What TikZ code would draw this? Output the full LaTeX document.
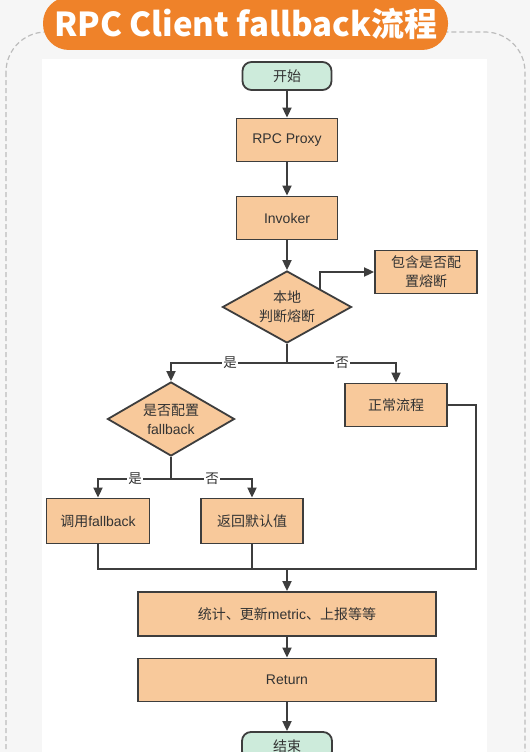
\documentclass[tikz,border=0pt]{standalone}
\usepackage{fontspec}
\usetikzlibrary{shapes.geometric,arrows.meta}
\newfontfamily\cjk{Noto Sans CJK SC}
\newfontfamily\lat{Liberation Sans}
\definecolor{boxc}{HTML}{F8C99B}
\definecolor{termc}{HTML}{CDEBDB}
\definecolor{linec}{HTML}{3D3D3D}
\definecolor{textc}{HTML}{333333}
\definecolor{titlec}{HTML}{EF8229}
\definecolor{bgc}{HTML}{F6F6F6}
\definecolor{framec}{HTML}{BDBDBD}
\begin{document}
\begin{tikzpicture}[x=1pt,y=-1pt,
  box/.style={draw=linec, line width=1.8pt, fill=boxc, font=\cjk\fontsize{14}{19}\selectfont, text=textc, inner sep=0pt, align=center},
  term/.style={box, fill=termc, rounded corners=9pt},
  dia/.style={box, diamond, aspect=1.8},
  conn/.style={draw=linec, line width=1.8pt},
  arr/.style={conn, -{Triangle[length=10pt,width=9pt]}},
  lab/.style={fill=white, inner sep=1pt, font=\cjk\fontsize{13.5}{13.5}\selectfont, text=textc}]
\clip (0,0) rectangle (530,752);
\fill[bgc] (0,0) rectangle (530,752);
\fill[white] (42,59) rectangle (487,760);
\draw[framec, line width=1.2pt, dash pattern=on 5pt off 3pt, rounded corners=40pt] (6,32) rectangle (525,820);
\node[fill=titlec, rounded corners=26pt, minimum width=405pt, minimum height=53pt, inner sep=0pt, text=white, font=\cjk\bfseries\fontsize{33}{33}\selectfont] (title) at (245.5,23.5) {RPC Client fallback流程};

\node[term, minimum width=89pt, minimum height=28pt] (start) at (287,76) {开始};
\node[box, minimum width=101pt, minimum height=43pt] (proxy) at (287,140) {\lat RPC Proxy};
\node[box, minimum width=101pt, minimum height=43pt] (inv) at (287,218) {\lat Invoker};
\node[dia, minimum width=129pt, minimum height=72pt] (d1) at (287,307) {本地\\判断熔断};
\node[box, minimum width=102pt, minimum height=43pt] (cfg) at (426,272) {包含是否配\\置熔断};
\node[box, minimum width=102pt, minimum height=43pt] (normal) at (396,405) {正常流程};
\node[dia, minimum width=127pt, minimum height=74pt] (d2) at (171,419) {是否配置\\{\lat fallback}};
\node[box, minimum width=103pt, minimum height=45pt] (fb) at (98,521) {调用{\lat fallback}};
\node[box, minimum width=102pt, minimum height=45pt] (def) at (252,521) {返回默认值};
\node[box, minimum width=298pt, minimum height=44pt] (stat) at (287,614) {统计、更新{\lat metric}、上报等等};
\node[box, minimum width=298pt, minimum height=43pt] (ret) at (287,680) {\lat Return};
\node[term, minimum width=90pt, minimum height=28pt] (end) at (287,746) {结束};

\draw[arr] (start) -- (proxy);
\draw[arr] (proxy) -- (inv);
\draw[arr] (inv) -- (d1);
\draw[arr] (d1.north east) |- (cfg.west);
\coordinate (j1) at (287,363);
\draw[conn] (d1.south) -- (j1);
\draw[arr] (j1) -| (d2.north);
\draw[arr] (j1) -| (normal.north);
\node[lab] (yes1) at (230,363) {是};
\node[lab] (no1) at (342,363) {否};
\coordinate (j2) at (171,479);
\draw[conn] (d2.south) -- (j2);
\draw[arr] (j2) -| (fb.north);
\draw[arr] (j2) -| (def.north);
\node[lab] (yes2) at (135,479) {是};
\node[lab] (no2) at (212,479) {否};
\coordinate (m) at (287,569);
\coordinate (rc) at (476,569);
\draw[conn] (fb.south) |- (m);
\draw[conn] (def.south) -- (def.south |- m);
\draw[conn] (normal.east) -| (rc) -- (m);
\draw[arr] (m) -- (stat.north);
\draw[arr] (stat) -- (ret);
\draw[arr] (ret) -- (end);
\end{tikzpicture}
\end{document}
